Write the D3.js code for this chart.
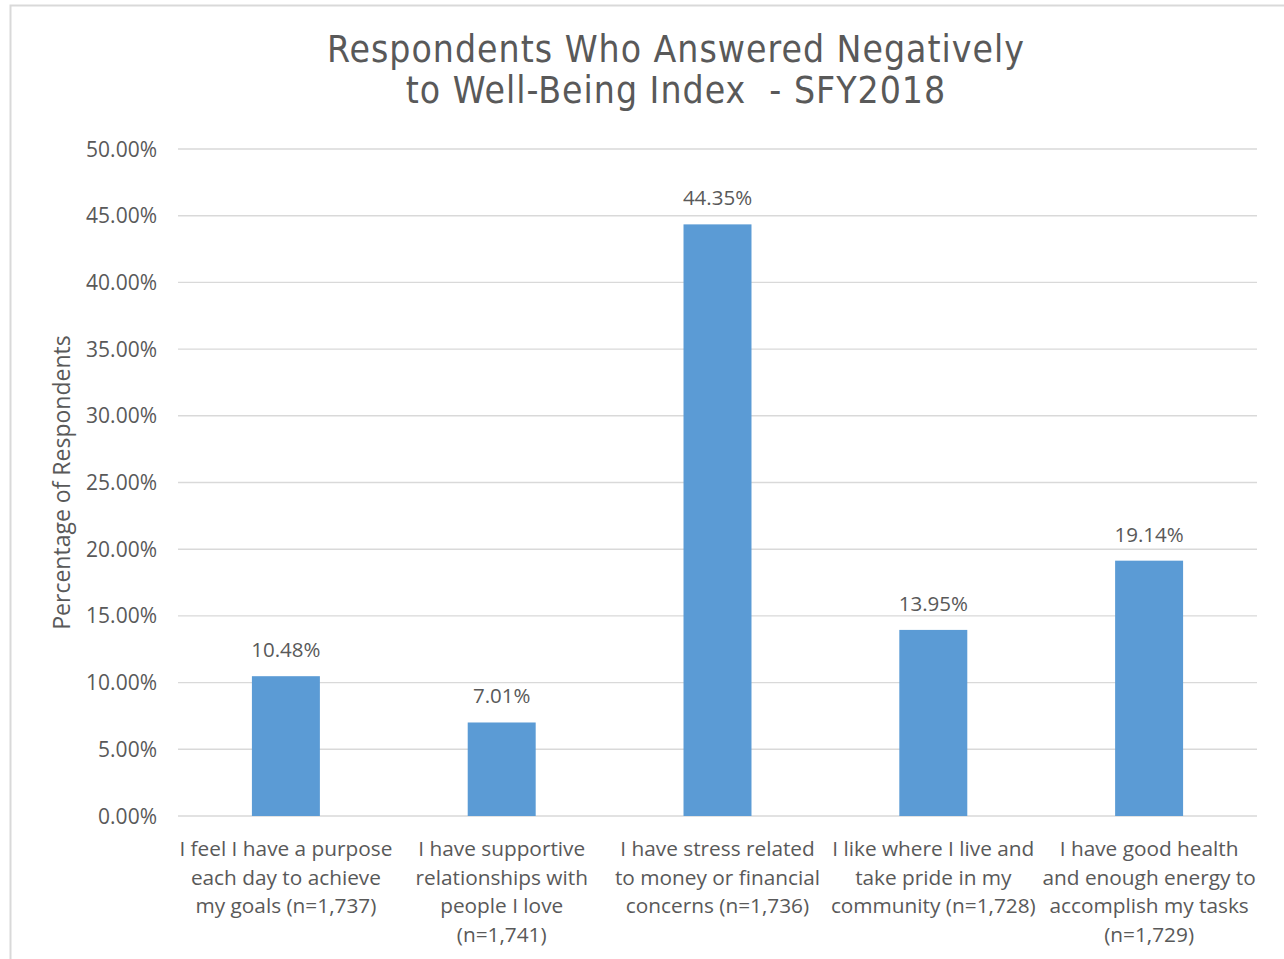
<!DOCTYPE html>
<html>
<head>
<meta charset="utf-8">
<script src="https://cdn.jsdelivr.net/npm/d3@7"></script>
<style>
  html, body { margin: 0; padding: 0; background: #fff; }
  svg { display: block; }
  .body-text { font-family: "Open Sans", "Noto Sans", sans-serif; fill: #595959; }
  .title { font-family: "Liberation Sans Narrow", "DejaVu Sans Condensed", "Roboto", sans-serif; fill: #595959; white-space: pre; }
</style>
</head>
<body>
<svg id="chart" width="1284" height="959"></svg>
<script>
// Well-Being Index: share of respondents answering negatively, SFY2018
const categories = [
  ["I feel I have a purpose", "each day to achieve", "my goals (n=1,737)"],
  ["I have supportive", "relationships with", "people I love", "(n=1,741)"],
  ["I have stress related", "to money or financial", "concerns (n=1,736)"],
  ["I like where I live and", "take pride in my", "community (n=1,728)"],
  ["I have good health", "and enough energy to", "accomplish my tasks", "(n=1,729)"]
];
const values = [10.48, 7.01, 44.35, 13.95, 19.14];
const yTicks = [0, 5, 10, 15, 20, 25, 30, 35, 40, 45, 50];
const titleLines = ["Respondents Who Answered Negatively", "to Well-Being Index  - SFY2018"];
const yAxisTitle = "Percentage of Respondents";

const svg = d3.select("#chart");
const W = 1284, H = 959;

// chart frame (extends past the right and bottom edges)
svg.append("rect")
  .attr("x", 10.5).attr("y", 5.5)
  .attr("width", W + 40).attr("height", H + 40)
  .attr("fill", "#fff")
  .attr("stroke", "#d9d9d9").attr("stroke-width", 2);

const plot = { left: 178, right: 1257, top: 149, bottom: 816 };

const x = d3.scaleBand()
  .domain(d3.range(categories.length))
  .range([plot.left, plot.right])
  .paddingInner(0.685)
  .paddingOuter(0.3425);

const y = d3.scaleLinear()
  .domain([0, 50])
  .range([plot.bottom, plot.top]);

// horizontal gridlines
svg.append("g")
  .selectAll("line")
  .data(yTicks)
  .join("line")
  .attr("x1", plot.left).attr("x2", plot.right)
  .attr("y1", d => y(d)).attr("y2", d => y(d))
  .attr("stroke", "#d9d9d9").attr("stroke-width", 1.4);

// y tick labels
svg.append("g")
  .selectAll("text")
  .data(yTicks)
  .join("text")
  .attr("class", "body-text")
  .attr("x", 157)
  .attr("y", d => y(d))
  .attr("dy", "0.36em")
  .attr("text-anchor", "end")
  .style("font-size", "21px")
  .text(d => d.toFixed(2) + "%");

// bars
svg.append("g")
  .selectAll("rect")
  .data(values)
  .join("rect")
  .attr("x", (d, i) => x(i))
  .attr("width", x.bandwidth())
  .attr("y", d => y(d))
  .attr("height", d => y(0) - y(d))
  .attr("fill", "#5b9bd5");

// value labels
svg.append("g")
  .selectAll("text")
  .data(values)
  .join("text")
  .attr("class", "body-text")
  .attr("x", (d, i) => x(i) + x.bandwidth() / 2)
  .attr("y", d => y(d) - 19)
  .attr("text-anchor", "middle")
  .style("font-size", "20.5px")
  .text(d => d.toFixed(2) + "%");

// category labels
const catG = svg.append("g")
  .selectAll("text")
  .data(categories)
  .join("text")
  .attr("class", "body-text")
  .attr("text-anchor", "middle")
  .style("font-size", "20.8px");
catG.selectAll("tspan")
  .data((d, i) => d.map((line, k) => ({ line, k, i })))
  .join("tspan")
  .attr("x", d => x(d.i) + x.bandwidth() / 2)
  .attr("y", d => 856 + d.k * 28.7)
  .text(d => d.line);

// y axis title
svg.append("text")
  .attr("class", "body-text")
  .attr("transform", `translate(70, ${(plot.top + plot.bottom) / 2}) rotate(-90)`)
  .attr("text-anchor", "middle")
  .style("font-size", "23px")
  .text(yAxisTitle);

// chart title
svg.append("text")
  .attr("class", "title")
  .attr("text-anchor", "middle")
  .style("font-size", "37px")
  .style("letter-spacing", "1px")
  .selectAll("tspan")
  .data(titleLines)
  .join("tspan")
  .attr("x", 676)
  .attr("y", (d, i) => 62 + i * 41)
  .text(d => d);
</script>
</body>
</html>
